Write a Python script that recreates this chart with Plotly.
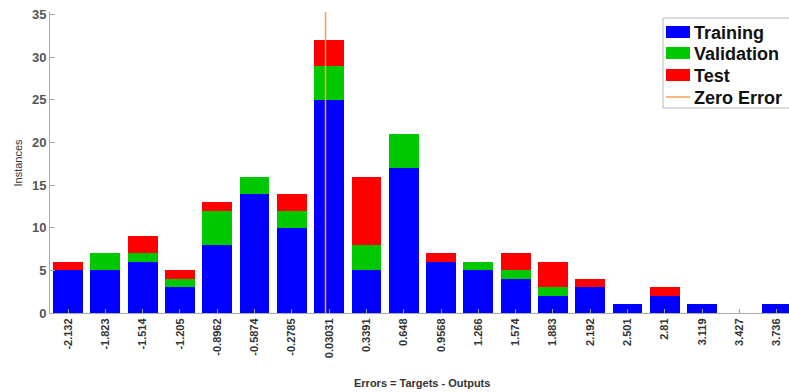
import plotly.graph_objects as go

# Error histogram: 20 bins, stacked by data split
bin_labels = ["-2.132", "-1.823", "-1.514", "-1.205", "-0.8962", "-0.5874", "-0.2785",
              "0.03031", "0.3391", "0.648", "0.9568", "1.266", "1.574", "1.883",
              "2.192", "2.501", "2.81", "3.119", "3.427", "3.736"]
bin_centers = [float(s) for s in bin_labels]
training = [5, 5, 6, 3, 8, 14, 10, 25, 5, 17, 6, 5, 4, 2, 3, 1, 2, 1, 0, 1]
validation = [0, 2, 1, 1, 4, 2, 2, 4, 3, 4, 0, 1, 1, 1, 0, 0, 0, 0, 0, 0]
test = [1, 0, 2, 1, 1, 0, 2, 3, 8, 0, 1, 0, 2, 3, 1, 0, 1, 0, 0, 0]
zero_error = 0.0
y_max = 35.3
y_ticks = [0, 5, 10, 15, 20, 25, 30, 35]

series_names = ["Training", "Validation", "Test"]
series_colors = ["#0000ff", "#00c800", "#ff0000"]
zero_color = "#f5a050"

W, H = 789, 392
M_L, M_R, M_T, M_B = 50, 0, 12, 79
PW, PH = W - M_L - M_R, H - M_T - M_B


def px_x(p):
    return (p - M_L) / PW


def px_y(p):
    return (H - M_B - p) / PH


bin_w = (bin_centers[-1] - bin_centers[0]) / (len(bin_centers) - 1)
bar_w = 0.8 * bin_w

fig = go.Figure()
for name, vals, col in zip(series_names, [training, validation, test], series_colors):
    fig.add_trace(go.Bar(x=bin_centers, y=vals, name=name, width=bar_w,
                         marker=dict(color=col, line=dict(width=0)), showlegend=False))

fig.add_trace(go.Scatter(x=[zero_error, zero_error], y=[0, y_max], mode="lines",
                         name="Zero Error", line=dict(color=zero_color, width=1.5),
                         showlegend=False))

x_lo = bin_centers[0] - 0.483 * bin_w
x_hi = bin_centers[0] + 19.33 * bin_w

# Legend box drawn in paper space
shapes = [dict(type="rect", xref="paper", yref="paper",
               x0=px_x(663), x1=px_x(790), y0=px_y(108), y1=px_y(18),
               line=dict(color="#b8b8b8", width=1), fillcolor="white", layer="above")]
annotations = []
row_y = [32, 53, 75, 97]
legend_labels = series_names + ["Zero Error"]
for i, label in enumerate(legend_labels):
    ry = row_y[i]
    if i < len(series_colors):
        shapes.append(dict(type="rect", xref="paper", yref="paper",
                           x0=px_x(666), x1=px_x(690), y0=px_y(ry + 6), y1=px_y(ry - 6),
                           line=dict(width=0), fillcolor=series_colors[i], layer="above"))
    else:
        shapes.append(dict(type="line", xref="paper", yref="paper",
                           x0=px_x(666), x1=px_x(690), y0=px_y(ry), y1=px_y(ry),
                           line=dict(color=zero_color, width=1.5), layer="above"))
    annotations.append(dict(text="<b>%s</b>" % label, xref="paper", yref="paper",
                            x=px_x(692), y=px_y(ry + 1), xanchor="left", yanchor="middle",
                            showarrow=False,
                            font=dict(size=18, color="#111111",
                                      family="Liberation Sans, Arial, sans-serif")))

annotations += [
    dict(text="<b>Errors = Targets - Outputs</b>", xref="paper", yref="paper",
         x=0.503, y=px_y(383), xanchor="center", yanchor="middle", showarrow=False,
         font=dict(size=11, color="#333333")),
    dict(text="Instances", xref="paper", yref="paper", x=px_x(17), y=0.5,
         textangle=-90, xanchor="center", yanchor="middle", showarrow=False,
         font=dict(size=11, color="#333333")),
]

fig.update_layout(
    width=W, height=H,
    margin=dict(l=M_L, r=M_R, t=M_T, b=M_B),
    paper_bgcolor="white", plot_bgcolor="white",
    barmode="stack", bargap=0,
    font=dict(family="Liberation Sans, Arial, sans-serif", color="#333333"),
    showlegend=False,
    xaxis=dict(range=[x_lo, x_hi], tickmode="array", tickvals=bin_centers,
               ticktext=["<b>%s</b>" % s for s in bin_labels], tickangle=-90,
               tickfont=dict(size=11, color="#333333"),
               ticks="inside", ticklen=4, tickcolor="#999999",
               showline=True, linecolor="#aaaaaa", linewidth=1,
               showgrid=False, zeroline=False),
    yaxis=dict(range=[0, y_max], tickvals=y_ticks,
               ticktext=["<b>%d</b>" % v for v in y_ticks],
               tickfont=dict(size=13, color="#555555"),
               ticks="inside", ticklen=5, tickcolor="#aaaaaa",
               showline=True, linecolor="#aaaaaa", linewidth=1,
               showgrid=False, zeroline=False),
    shapes=shapes,
    annotations=annotations,
)

fig.write_html("out.html")
